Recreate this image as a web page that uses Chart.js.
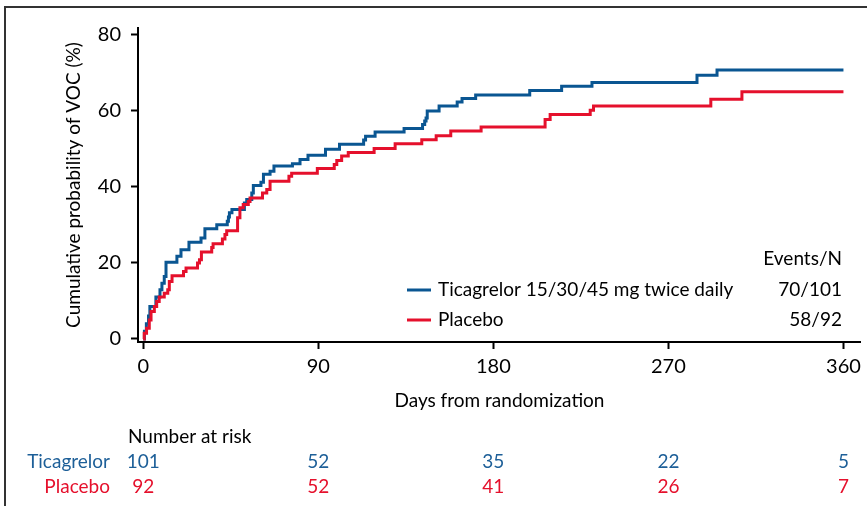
<!DOCTYPE html>
<html>
<head>
<meta charset="utf-8">
<script src="https://cdn.jsdelivr.net/npm/chart.js@4"></script>
<style>
  body { margin: 0; background: #fff; }
  canvas { display: block; }
</style>
</head>
<body>
<canvas id="kmChart" width="867" height="506"></canvas>
<script>
// step points (day, cumulative %)
const ticaDays = [0, 0.6, 1.6, 2.7, 3.4, 6.5, 8.6, 9.6, 10.8, 11.7, 17.3, 19.4, 23.5, 29.7, 31.7, 37.8, 43.2, 43.8, 44.3, 45.6, 52, 53.2, 55.8, 56.6, 60.5, 61.8, 65.2, 67.2, 76.7, 80.6, 84.7, 93.7, 100.9, 113.3, 114.3, 119.2, 134.1, 143.6, 144.7, 145.4, 146, 152.1, 161.4, 163.9, 170.9, 198.7, 215.1, 230.7, 284.7, 295, 360];
const ticaVals = [0, 2, 4, 6, 8.5, 11, 12.9, 14.6, 16.4, 20.1, 21.7, 23.4, 25.4, 26.5, 28.9, 30, 30.9, 32, 33.1, 34, 35.7, 36.6, 38.3, 40.3, 41.1, 43.2, 44, 45.4, 46, 47.1, 48.2, 49.8, 51.1, 52.2, 53.2, 54.3, 55.2, 56.3, 57.2, 58, 59.8, 61.1, 62.2, 63.1, 64, 65.2, 66.3, 67.3, 69.2, 70.6, 70.6];
const placDays = [0, 0.5, 1.7, 3.1, 4, 5.7, 6.9, 8.2, 10.8, 12.6, 13.4, 14.8, 20.7, 22, 27.9, 28.9, 29.9, 35.2, 35.9, 40.7, 42, 42.9, 48.5, 49.7, 51.4, 54, 54.9, 61.3, 63.5, 65.2, 74.9, 76.3, 89.5, 98.2, 99.5, 102, 105.4, 118.7, 129.5, 143.2, 150.6, 158.1, 173.7, 206.6, 209.2, 229.8, 231.5, 291.8, 307.8, 360];
const placVals = [0, 1.5, 2.8, 5, 7.2, 8.5, 9.8, 11, 12, 12.9, 15.1, 16.6, 17.7, 18.6, 19.9, 20.8, 22.8, 24, 25, 26.2, 27.4, 28.4, 31.8, 34.4, 35.3, 36.1, 37, 38.3, 39.2, 41.4, 42.7, 43.5, 44.7, 45.8, 46.8, 48, 48.9, 50, 51.2, 52.3, 53.3, 54.6, 55.6, 57.6, 58.9, 60, 61.1, 62.9, 64.9, 64.9];

const xTicks = [0, 90, 180, 270, 360];
const yTicks = [0, 20, 40, 60, 80];
const groups = ["Ticagrelor", "Placebo"];
const legendLabels = ["Ticagrelor 15/30/45 mg twice daily", "Placebo"];
const eventsN = ["70/101", "58/92"];
const riskTica = [101, 52, 35, 22, 5];
const riskPlac = [92, 52, 41, 26, 7];

const BLUE = "#0a5692";
const BLUE_TXT = "#1d5f98";
const RED = "#e5102c";
const FONT = "Lato";

function zip(xs, ys) {
    return xs.map((x, i) => ({ x: x, y: ys[i] }));
}

const extras = {
    id: "extras",
    afterDraw(chart) {
        const ctx = chart.ctx;
        const xs = chart.scales.x;
        ctx.save();

        // frame of the original figure panel
        ctx.strokeStyle = "#333";
        ctx.lineWidth = 2;
        ctx.beginPath();
        ctx.moveTo(5, 506);
        ctx.lineTo(5, 7);
        ctx.lineTo(867, 7);
        ctx.stroke();

        // legend
        ctx.font = "19px " + FONT;
        ctx.textBaseline = "middle";
        ctx.fillStyle = "#000";
        ctx.textAlign = "right";
        ctx.fillText("Events/N", 842, 259);
        const rows = [290, 320];
        const cols = [BLUE, RED];
        rows.forEach((y, i) => {
            ctx.strokeStyle = cols[i];
            ctx.lineWidth = 3;
            ctx.beginPath();
            ctx.moveTo(407, y);
            ctx.lineTo(431, y);
            ctx.stroke();
            ctx.textAlign = "left";
            ctx.fillStyle = "#000";
            ctx.fillText(legendLabels[i], 438, y);
            ctx.textAlign = "right";
            ctx.fillText(eventsN[i], 842, y);
        });

        // number at risk table
        ctx.textAlign = "left";
        ctx.fillStyle = "#000";
        ctx.fillText("Number at risk", 128, 437);
        const riskRows = [riskTica, riskPlac];
        const riskY = [462, 487];
        const riskCol = [BLUE_TXT, RED];
        riskRows.forEach((vals, r) => {
            ctx.fillStyle = riskCol[r];
            ctx.textAlign = "right";
            ctx.fillText(groups[r], 110, riskY[r]);
            ctx.textAlign = "center";
            vals.forEach((v, i) => {
                ctx.fillText(String(v), xs.getPixelForValue(xTicks[i]), riskY[r]);
            });
        });
        ctx.restore();
    }
};

const config = {
    type: "line",
    data: {
        datasets: [
            {
                label: "Placebo",
                data: zip(placDays, placVals),
                borderColor: RED,
                borderWidth: 3,
                stepped: "before",
                pointRadius: 0,
                fill: false
            },
            {
                label: "Ticagrelor",
                data: zip(ticaDays, ticaVals),
                borderColor: BLUE,
                borderWidth: 3,
                stepped: "before",
                pointRadius: 0,
                fill: false
            }
        ]
    },
    options: {
        responsive: false,
        animation: false,
        layout: { padding: { left: 58, right: 6, top: 28, bottom: 90 } },
        plugins: { legend: { display: false }, tooltip: { enabled: false } },
        scales: {
            x: {
                type: "linear",
                min: -2.7,
                max: 369,
                afterFit: (s) => { s.height = 74; },
                afterBuildTicks: (s) => { s.ticks = xTicks.map(v => ({ value: v })); },
                border: { display: true, color: "#000", width: 2 },
                grid: { display: true, drawOnChartArea: false, tickLength: 7, tickColor: "#000", tickWidth: 2 },
                ticks: { color: "#000", padding: 6, maxRotation: 0, font: { family: FONT, size: 20 } },
                title: { display: true, text: "Days from randomization", color: "#000", padding: { top: 4, bottom: 4 }, font: { family: FONT, size: 19 } }
            },
            y: {
                type: "linear",
                min: -0.8,
                max: 81.6,
                afterFit: (s) => { s.width = 80; },
                afterBuildTicks: (s) => { s.ticks = yTicks.map(v => ({ value: v })); },
                border: { display: true, color: "#000", width: 2 },
                grid: { display: true, drawOnChartArea: false, tickLength: 7, tickColor: "#000", tickWidth: 2 },
                ticks: { color: "#000", padding: 10, font: { family: FONT, size: 20 } },
                title: { display: true, text: "Cumulative probability of VOC (%)", color: "#000", padding: { top: 4, bottom: 4 }, font: { family: FONT, size: 19 } }
            }
        }
    },
    plugins: [extras]
};

window.onload = function () {
    new Chart(document.getElementById("kmChart"), config);
};
</script>
</body>
</html>
